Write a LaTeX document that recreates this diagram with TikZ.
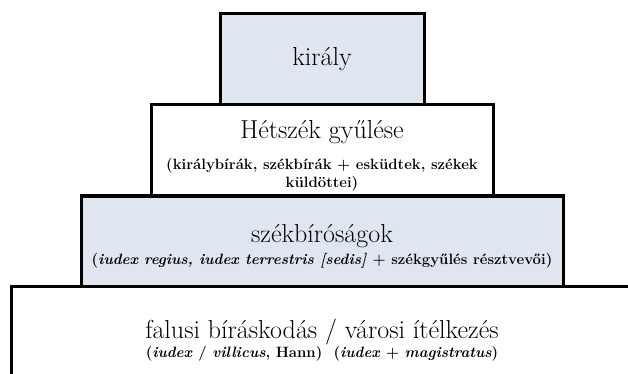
\documentclass[tikz,border=0pt]{standalone}
\usepackage{fontspec}
\usepackage{tikz}
\usetikzlibrary{positioning}
\definecolor{tierblue}{RGB}{224,230,240}

\begin{document}
\begin{tikzpicture}[x=0.75pt,y=-0.75pt,
  tier/.style={draw, line width=2.25pt, outer sep=0pt, inner sep=0pt,
    align=center, fill=white, font=\NoteFont},
  shaded/.style={fill=tierblue}]
  % 単位は px (元画像 628x374 に合わせる)
  \def\TitleFont{\fontsize{19.5}{22}\selectfont\mdseries}
  \def\NoteFont{\fontsize{11.2}{13.5}\selectfont\bfseries}
  \def\TopGap#1{\rule{0pt}{#1}} % 文字を少し下げる

  \useasboundingbox (0,0) rectangle (628,374);

  % 上から順に積む
  \node[tier, shaded, minimum width=153pt, minimum height=68.25pt]
    (kiraly) at (322,59.5) {\TitleFont király};
  \node[tier, minimum width=256.5pt, minimum height=68.25pt, below=0pt of kiraly]
    (hetszek) {\TopGap{22pt}{\TitleFont Hétszék gyűlése}\\[10pt]
      (királybírák, székbírák + esküdtek, székek\\ küldöttei)};
  \node[tier, shaded, minimum width=361.5pt, minimum height=67.5pt, below=0pt of hetszek]
    (szekbirosag) {\TopGap{22pt}{\TitleFont székbíróságok}\\[3pt]
      (\textit{iudex regius, iudex terrestris [sedis]} + székgyűlés résztvevői)};
  \node[tier, minimum width=466.5pt, minimum height=81pt, below=0pt of szekbirosag]
    (falusi) {{\TitleFont falusi bíráskodás / városi ítélkezés}\\[0.75pt]
      (\textit{iudex} / \textit{villicus}, Hann)\ \ (\textit{iudex} + \textit{magistratus})};
\end{tikzpicture}
\end{document}
